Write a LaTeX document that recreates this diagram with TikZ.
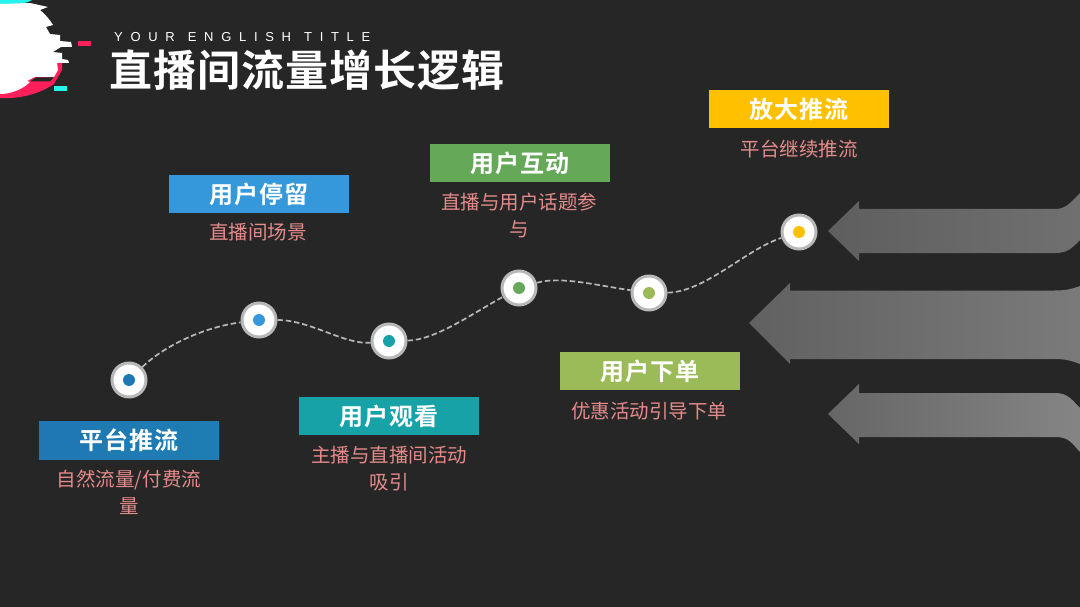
\documentclass[tikz,border=0pt]{standalone}
\usepackage{fontspec}
\setmainfont{Liberation Sans}
\newfontfamily\cjk{Noto Sans CJK SC}
\newfontfamily\cjkt[LetterSpace=2.5]{Noto Sans CJK SC Bold}
\newfontfamily\cjkh[LetterSpace=4]{Noto Sans CJK SC Bold}
\usetikzlibrary{calc}
\newcommand{\hbt}[1]{\raisebox{-1.2pt}{#1}}
\definecolor{bgc}{HTML}{262626}
\definecolor{sal}{HTML}{E58B8B}
\definecolor{cA}{HTML}{1F77B4}
\definecolor{cB}{HTML}{3498DB}
\definecolor{cC}{HTML}{17A2A8}
\definecolor{cD}{HTML}{64A858}
\definecolor{cE}{HTML}{9BBB59}
\definecolor{cF}{HTML}{FFC000}
\definecolor{pinkc}{HTML}{FF1F5A}
\definecolor{cyanc}{HTML}{25F4EE}
\tikzset{
 x=1pt,y=-1pt,
 headbox/.style={minimum width=180pt,minimum height=38pt,inner sep=0pt,text=white,font=\cjkh\fontsize{24}{26}\selectfont},
 desc/.style={text=sal,font=\cjk\fontsize{19.5}{27}\selectfont,align=center,inner sep=0pt},
 ringdot/.style={circle,draw=white!72!black,line width=3pt,fill=white,minimum size=34pt,inner sep=0pt},
 coredot/.style={circle,minimum size=12pt,inner sep=0pt},
 linkline/.style={draw=white!72!black,line width=1.7pt,dash pattern=on 5.5pt off 2.8pt},
}
\begin{document}
\begin{tikzpicture}
\useasboundingbox (0,0) rectangle (1080,607);
\fill[bgc] (0,0) rectangle (1080,607);
% arrows
\path[left color=black!63,right color=black!56] (828,231) -- (859,201) -- (859,209) -- (1055,209) .. controls (1066,209) and (1070,203) .. (1080,193) -- (1080,240) .. controls (1072,248) and (1068,253) .. (1055,253) -- (859,253) -- (859,261) -- cycle;
\path[left color=black!62,right color=black!52] (749,323) -- (790,283) -- (790,290.5) -- (1055,290.5) .. controls (1066,290.5) and (1072,289) .. (1080,286) -- (1080,364) .. controls (1072,361) and (1066,359) .. (1055,359) -- (790,359) -- (790,364) -- cycle;
\path[left color=black!60,right color=black!48] (828,414) -- (859,384) -- (859,393) -- (1055,393) .. controls (1068,393) and (1072,400) .. (1080,408) -- (1080,452) .. controls (1072,444) and (1070,437) .. (1055,437) -- (859,437) -- (859,444) -- cycle;
% logo
\fill[cyanc] (0,0) -- (32,0) .. controls (28,3) and (20,4) .. (10,4) -- (0,5) -- cycle;
\fill[pinkc] (0,98) -- (0,60) -- (58,56) -- (62,60) -- (62,70) -- (54,84) .. controls (42,92) and (25,99) .. (0,98) -- cycle;
\fill[white] (0,4) .. controls (10,4) and (20,3) .. (30,3) -- (48,7) -- (40,10) .. controls (46,15) and (50,20) .. (53,25) -- (46,27) -- (50,34) -- (60,35) -- (60,41) -- (71,42) -- (72,47) -- (61,47) -- (53,52) -- (62,53) -- (62,59) -- (68,60) -- (69,63) -- (57,63) -- (58,70) -- (54,77) -- (35,77) -- (27,81) -- (30,82) .. controls (22,90) and (10,94) .. (0,94) -- cycle;
\fill[bgc] (36,77.5) -- (54,77.5) -- (50,81.5) -- (30,81.5) -- cycle;
\fill[pinkc] (78,41.5) rectangle (91,46.5);
\fill[cyanc] (54,86.5) rectangle (67,91);
% title
\node[anchor=west,inner sep=0pt,text=white,font=\fontsize{13}{15}\selectfont] (entitle) at (114,37) {Y\hspace{7.7pt}O\hspace{7.7pt}U\hspace{7.7pt}R\hspace{13pt}E\hspace{7.7pt}N\hspace{7.7pt}G\hspace{7.7pt}L\hspace{7.7pt}I\hspace{7.7pt}S\hspace{7.7pt}H\hspace{13pt}T\hspace{7.7pt}I\hspace{7.7pt}T\hspace{7.7pt}L\hspace{7.7pt}E};
\node[anchor=west,inner sep=0pt,text=white,font=\cjkt\fontsize{43}{45}\selectfont] (title) at (109,70) {直播间流量增长逻辑};
% dots
\foreach \n/\xx/\yy/\cc in {a/129/380/cA,b/259/320/cB,c/389/341/cC,d/519/288/cD,e/649/293/cE,f/799/232/cF}{
 \node[ringdot] (\n) at (\xx,\yy) {};
 \node[coredot,fill=\cc] (\n c) at (\xx,\yy) {};
}
\draw[linkline] (a) .. controls (165,345) and (205,327) .. (b);
\draw[linkline] (b) .. controls (310,320) and (345,345) .. (c);
\draw[linkline] (c) .. controls (435,340) and (470,315) .. (d);
\draw[linkline] (d) .. controls (560,276) and (595,285) .. (e);
\draw[linkline] (e) .. controls (705,292) and (745,250) .. (f);
% heads
\node[headbox,left color=cA,right color=cA!85!cC] (ha) at (129,440) {\hbt{平台推流}};
\node[headbox,fill=cB] (hb) at (259,194) {\hbt{用户停留}};
\node[headbox,fill=cC] (hc) at (389,416) {\hbt{用户观看}};
\node[headbox,fill=cD] (hd) at (520,163) {\hbt{用户互动}};
\node[headbox,fill=cE] (he) at (650,371) {\hbt{用户下单}};
\node[headbox,fill=cF] (hf) at (799,109.5) {\hbt{放大推流}};
% descriptions
\node[desc,anchor=north] (da) at (129,470) {自然流量/付费流\\量};
\node[desc,anchor=north] (db) at (258,223) {直播间场景};
\node[desc,anchor=north] (dc) at (389,446) {主播与直播间活动\\吸引};
\node[desc,anchor=north] (dd) at (519,192.5) {直播与用户话题参\\与};
\node[desc,anchor=north] (de) at (649,402) {优惠活动引导下单};
\node[desc,anchor=north] (df) at (799,139.5) {平台继续推流};
\end{tikzpicture}
\end{document}
